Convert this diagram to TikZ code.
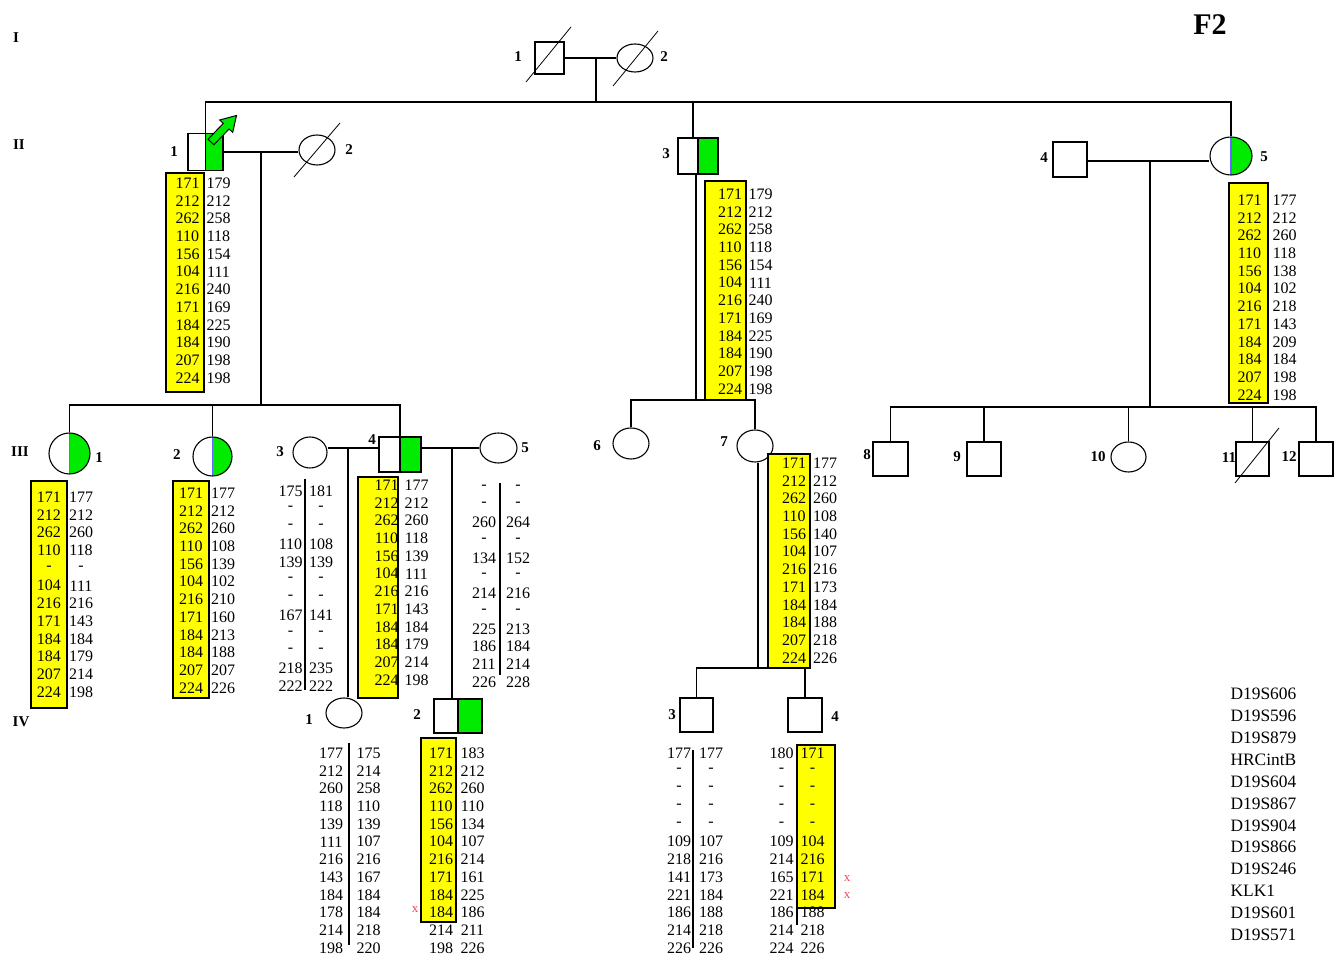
\documentclass[tikz,border=0pt]{standalone}
\usepackage{fontspec}
\setmainfont{Liberation Serif}
\usepackage{tikz}
\usetikzlibrary{positioning,shapes.geometric}
\definecolor{affgreen}{RGB}{0,235,0}
\definecolor{hapyellow}{RGB}{255,255,0}
\definecolor{xred}{RGB}{240,70,90}
% two allele columns, one row per marker
\newcommand{\alleles}[5]{%
  \foreach \a/\b [count=\k from 0] in {#5}{%
    \node[allele] (#1a\k) at (#2,{#4+\k*17.75}) {\a};
    \node[allele] (#1b\k) at (#3,{#4+\k*17.75}) {\b};}}

\begin{document}
\begin{tikzpicture}[x=0.5pt, y=-0.5pt, line width=0.55pt,
  male/.style={draw, rectangle, inner sep=0pt, minimum width=17pt, minimum height=17pt},
  female/.style={draw, ellipse, inner sep=0pt, minimum width=18pt, minimum height=15pt},
  halfsq/.style={path picture={\fill[affgreen] (path picture bounding box.north) rectangle (path picture bounding box.south east);
    \draw (path picture bounding box.north) -- (path picture bounding box.south);}},
  halfci/.style={path picture={\fill[affgreen] (path picture bounding box.north) rectangle (path picture bounding box.south east);
    \draw[blue!60] (path picture bounding box.north) -- (path picture bounding box.south);}},
  num/.style={font=\fontsize{7.5}{8}\selectfont\bfseries, inner sep=0pt},
  allele/.style={font=\fontsize{8}{9}\selectfont, inner sep=0pt},
  mkname/.style={font=\fontsize{8.7}{9}\selectfont, inner sep=0pt, anchor=west},
  redx/.style={font=\fontsize{6.5}{7}\selectfont, text=xred, inner sep=0pt},
  hapbox/.style={fill=hapyellow, draw=black},
  dead/.style={line width=0.4pt}]
  \useasboundingbox (0,0) rectangle (1341,961);

  % generation I
  \node[male, minimum width=14.5pt, minimum height=16pt] (I1) at (549.5,58) {};
  \node[female, minimum height=14pt] (I2) at (635,58) {};
  \draw[dead] (526,82) -- (571,27);
  \draw[dead] (613,86) -- (658,31);
  \node[num] (I1l) at (518,57) {1};
  \node[num] (I2l) at (664,57) {2};

  % generation II
  \node[male, halfsq, minimum width=17.5pt, minimum height=18.5pt] (II1) at (205.5,152) {};
  \node[female] (II2) at (317,150) {};
  \draw[dead] (294,177) -- (340,123);
  \node[male, halfsq, minimum width=20pt, minimum height=18pt] (II3) at (698,156) {};
  \node[male, minimum height=17.5pt] (II4) at (1070,159.5) {};
  \node[female, halfci, minimum width=21pt, minimum height=19pt] (II5) at (1231,156) {};
  \node[num] (II1l) at (174,152) {1};
  \node[num] (II2l) at (349,150) {2};
  \node[num] (II3l) at (666,154) {3};
  \node[num] (II4l) at (1044,158) {4};
  \node[num] (II5l) at (1264,157) {5};
  \filldraw[fill=affgreen, line width=0.5pt] (208.1,139.2) -- (223.3,123.4) -- (219.7,120)
    -- (236.5,115.5) -- (232.7,132.4) -- (229.1,129) -- (213.9,144.8) -- cycle;

  % generation III
  \node[female, halfci, minimum width=20.5pt, minimum height=20.5pt] (III1) at (69.5,453.5) {};
  \node[female, halfci, minimum width=19.5pt, minimum height=19.5pt] (III2) at (212.5,456.5) {};
  \node[female, minimum width=17pt, minimum height=15.5pt] (III3) at (310,452.5) {};
  \node[male, halfsq, minimum width=21pt, minimum height=17.5pt] (III4) at (400,454.5) {};
  \node[female, minimum width=18.5pt] (III5) at (498.5,448) {};
  \node[female, minimum height=15.5pt] (III6) at (631,443.5) {};
  \node[female, minimum height=16pt] (III7) at (755,446) {};
  \node[male, minimum width=17.5pt] (III8) at (890.5,459) {};
  \node[male] (III9) at (984,459) {};
  \node[female, minimum width=17.5pt] (III10) at (1128.5,457) {};
  \node[male, minimum width=16.5pt] (III11) at (1252.5,459) {};
  \node[male] (III12) at (1316,459) {};
  \draw[dead] (1235,483) -- (1279,428);
  \node[num] (III1l) at (99,458) {1};
  \node[num] (III2l) at (177,455) {2};
  \node[num] (III3l) at (280,452) {3};
  \node[num] (III4l) at (372,440) {4};
  \node[num] (III5l) at (525,448) {5};
  \node[num] (III6l) at (597,446) {6};
  \node[num] (III7l) at (724,442) {7};
  \node[num] (III8l) at (867,455) {8};
  \node[num] (III9l) at (957,457) {9};
  \node[num] (III10l) at (1098,457) {10};
  \node[num] (III11l) at (1229,458) {11};
  \node[num] (III12l) at (1289,457) {12};

  % generation IV
  \node[female] (IV1) at (344,713) {};
  \node[male, halfsq, minimum width=24pt] (IV2) at (458,716) {};
  \node[male, minimum width=16.5pt] (IV3) at (696.5,715) {};
  \node[male] (IV4) at (805,715) {};
  \node[num] (IV1l) at (309,720) {1};
  \node[num] (IV2l) at (417,715) {2};
  \node[num] (IV3l) at (672,715) {3};
  \node[num] (IV4l) at (835,717) {4};

  % lines of descent
  \coordinate (mA) at (596,58);
  \coordinate (sibA) at (596,102);
  \draw (I1.east) -- (I2.west);
  \draw (mA) -- (sibA);
  \draw (II1.north) |- (sibA) -| (II5.north);
  \draw ([xshift=-2.5pt]II3.north) -- ([xshift=-2.5pt]II3.north |- sibA);

  \coordinate (mB) at (261,152);
  \coordinate (sibB) at (261,405);
  \draw (II1.east) -- (II1.east -| II2.west);
  \draw (mB) -- (sibB);
  \draw (III1.north) |- (sibB) -| (III4.north);
  \draw (III2.north) -- (III2.north |- sibB);

  \coordinate (sibC) at (696,400);
  \draw (II3.south -| sibC) -- (sibC);
  \draw (III6.north) |- (sibC) -| (III7.north);

  \coordinate (mD) at (1150,161);
  \coordinate (sibD) at (1150,407);
  \draw (II4.east |- mD) -- (II5.west |- mD);
  \draw (mD) -- (sibD);
  \draw (III8.north) |- (sibD) -| (III12.north);
  \draw (III9.north) -- (III9.north |- sibD);
  \draw (III10.north) -- (III10.north |- sibD);
  \draw (III11.north) -- (III11.north |- sibD);

  \coordinate (mE) at (348,448);
  \coordinate (mF) at (452,448);
  \draw (III3.east |- mE) -- (III4.west |- mE);
  \draw (III4.east |- mF) -- (III5.west |- mF);
  \draw (mE) -- (IV1.north -| mE);
  \draw (mF) -- (IV2.north -| mF);

  \coordinate (sibE) at (758,668);
  \draw (III7.south -| sibE) -- (sibE);
  \draw (IV3.north) |- (sibE) -| (IV4.north);

  % haplotype boxes and separators
  \filldraw[hapbox] (166,173) rectangle (204,392);
  \filldraw[hapbox] (705,181) rectangle (746,400);
  \filldraw[hapbox] (1229,183) rectangle (1268,403);
  \filldraw[hapbox] (31,481) rectangle (67,708);
  \filldraw[hapbox] (173,481) rectangle (209,698);
  \filldraw[hapbox] (358,477) rectangle (398,698);
  \filldraw[hapbox] (768,454) rectangle (810,668);
  \filldraw[hapbox] (421,738) rectangle (456,922);
  \filldraw[hapbox] (797,745) rectangle (835,908);
  \draw (305,479) -- (305,690);
  \draw (500,483) -- (500,675);
  \draw (349,743) -- (349,945);
  \draw (693,750) -- (693,948);
  \draw (797,908) -- (797,925);

  % haplotypes
  \alleles{hII1}{187.5}{218.5}{183}{171/179,212/212,262/258,110/118,156/154,104/111,216/240,171/169,184/225,184/190,207/198,224/198}
  \alleles{hII3}{730}{760.5}{194}{171/179,212/212,262/258,110/118,156/154,104/111,216/240,171/169,184/225,184/190,207/198,224/198}
  \alleles{hII5}{1249.5}{1284.5}{200}{171/177,212/212,262/260,110/118,156/138,104/102,216/218,171/143,184/209,184/184,207/198,224/198}
  \alleles{hIII1}{49}{81}{497}{171/177,212/212,262/260,110/118,-/-,104/111,216/216,171/143,184/184,184/179,207/214,224/198}
  \alleles{hIII2}{191}{223}{493}{171/177,212/212,262/260,110/108,156/139,104/102,216/210,171/160,184/213,184/188,207/207,224/226}
  \alleles{hIII3}{290.5}{321}{491}{175/181,-/-,-/-,110/108,139/139,-/-,-/-,167/141,-/-,-/-,218/235,222/222}
  \alleles{hIII4}{386.5}{416.5}{485}{171/177,212/212,262/260,110/118,156/139,104/111,216/216,171/143,184/184,184/179,207/214,224/198}
  \alleles{hIII5}{484}{518}{487}{-/-,-/-,260/264,-/-,134/152,-/-,214/216,-/-,225/213,186/184,211/214,226/228}
  \alleles{hIII7}{794}{825}{463}{171/177,212/212,262/260,110/108,156/140,104/107,216/216,171/173,184/184,184/188,207/218,224/226}
  \alleles{hIV1}{331}{368.5}{753}{177/175,212/214,260/258,118/110,139/139,111/107,216/216,143/167,184/184,178/184,214/218,198/220}
  \alleles{hIV2}{441}{472.5}{753}{171/183,212/212,262/260,110/110,156/134,104/107,216/214,171/161,184/225,184/186,214/211,198/226}
  \alleles{hIV3}{679}{711}{753}{177/177,-/-,-/-,-/-,-/-,109/107,218/216,141/173,221/184,186/188,214/218,226/226}
  \alleles{hIV4}{781.5}{812.5}{753}{180/171,-/-,-/-,-/-,-/-,109/104,214/216,165/171,221/184,186/188,214/218,224/226}
  \node[redx] (rx1) at (415,910) {x};
  \node[redx] (rx2) at (847,879) {x};
  \node[redx] (rx3) at (847,896) {x};

  % markers
  \foreach \m [count=\k from 0] in {D19S606,D19S596,D19S879,HRCintB,D19S604,D19S867,D19S904,D19S866,D19S246,KLK1,D19S601,D19S571}
    \node[mkname] (mk\k) at (1230,{694+\k*21.9}) {\m};

  % generation numbers and title
  \node[num] (gI) at (16,38) {I};
  \node[num] (gII) at (19,145) {II};
  \node[num] (gIII) at (20,452) {III};
  \node[num] (gIV) at (21,722) {IV};
  \node[font=\fontsize{15}{16}\selectfont\bfseries, inner sep=0pt] (ttl) at (1210,25) {F2};
\end{tikzpicture}
\end{document}
